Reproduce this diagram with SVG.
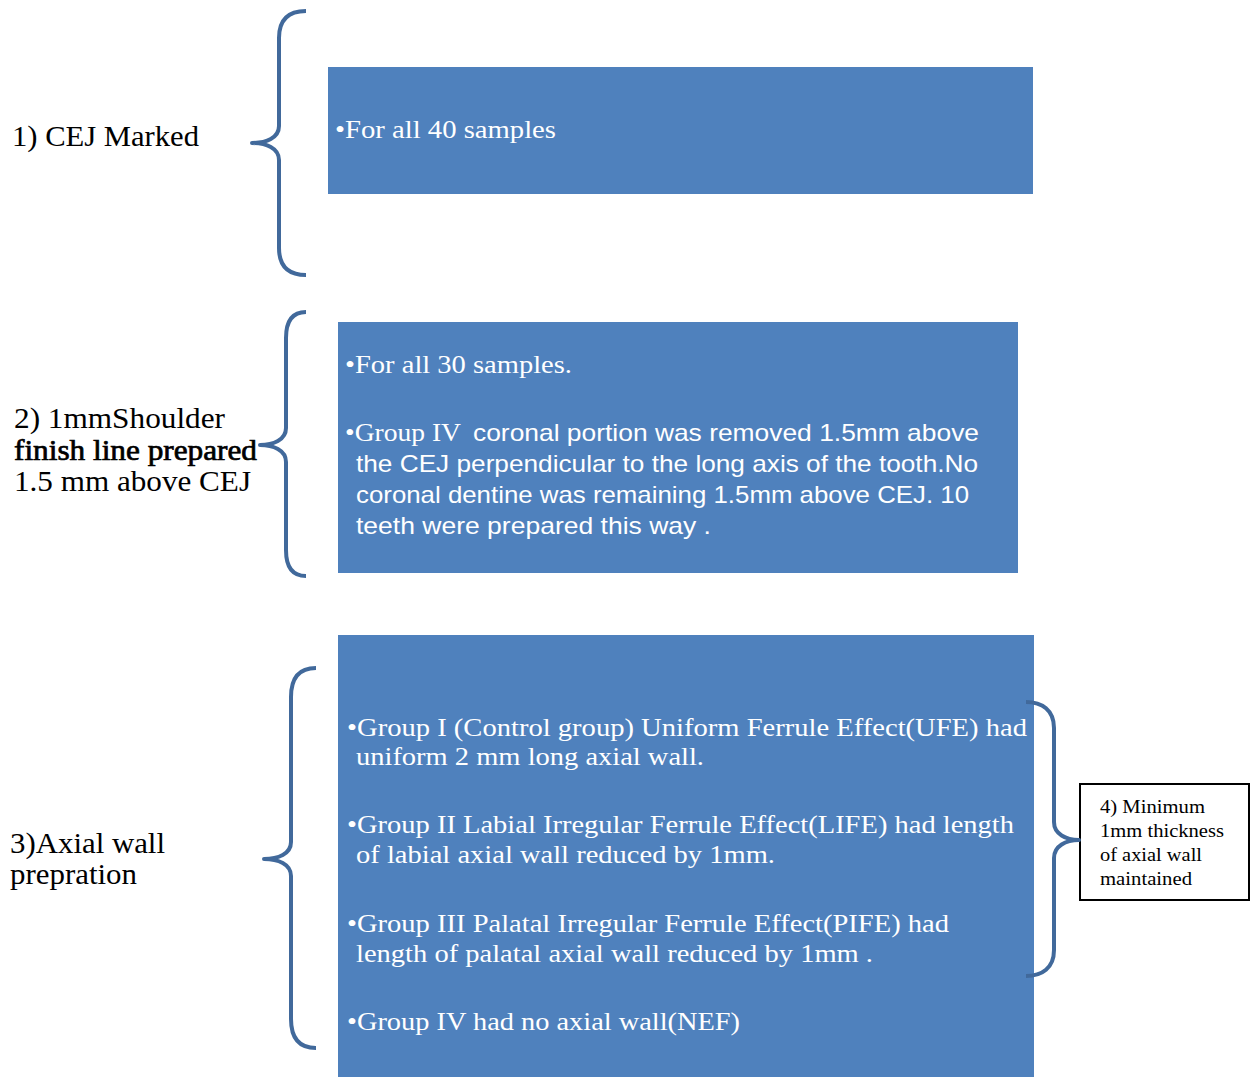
<svg xmlns="http://www.w3.org/2000/svg" width="1251" height="1077" viewBox="0 0 1251 1077">
<style>
.box{fill:#4f81bd;stroke:none}
.brace{fill:none;stroke:#41699b;stroke-width:4;stroke-linecap:butt;stroke-linejoin:round}
.w{fill:#ffffff;font-family:"Liberation Serif","Times New Roman",serif;font-size:26px}
.ws{fill:#ffffff;font-family:"Liberation Sans",Arial,sans-serif;font-size:24px}
.lbl{fill:#000000;font-family:"Liberation Serif","Times New Roman",serif;font-size:29px}
.heavy{stroke:#000000;stroke-width:0.7}
.small{fill:#000000;font-family:"Liberation Serif","Times New Roman",serif;font-size:19px}
.note{fill:#ffffff;stroke:#000000;stroke-width:2}
</style>
<rect width="1251" height="1077" fill="#ffffff"/>

<g id="label1">
<text class="lbl" x="12" y="146" textLength="187" lengthAdjust="spacingAndGlyphs">1) CEJ Marked</text>
</g>
<g id="label2">
<text class="lbl" x="14" y="428" textLength="211" lengthAdjust="spacingAndGlyphs">2) 1mmShoulder</text>
<text class="lbl heavy" x="14" y="460" textLength="243" lengthAdjust="spacingAndGlyphs">finish line prepared</text>
<text class="lbl" x="14" y="491" textLength="237" lengthAdjust="spacingAndGlyphs">1.5 mm above CEJ</text>
</g>
<g id="label3">
<text class="lbl" x="10" y="853" textLength="155" lengthAdjust="spacingAndGlyphs">3)Axial wall</text>
<text class="lbl" x="10" y="884" textLength="127" lengthAdjust="spacingAndGlyphs">prepration</text>
</g>

<g id="box1">
<rect class="box" x="328" y="67" width="705" height="127"/>
<text class="w" x="335" y="138" textLength="221" lengthAdjust="spacingAndGlyphs">•For all 40 samples</text>
</g>

<g id="box2">
<rect class="box" x="338" y="322" width="680" height="251"/>
<text class="w" x="345" y="373" textLength="227" lengthAdjust="spacingAndGlyphs">•For all 30 samples.</text>
<text class="w" x="345" y="441" textLength="116" lengthAdjust="spacingAndGlyphs">•Group IV</text>
<text class="ws" x="473" y="441" textLength="506" lengthAdjust="spacingAndGlyphs">coronal portion was removed 1.5mm above</text>
<text class="ws" x="356" y="472" textLength="622" lengthAdjust="spacingAndGlyphs">the CEJ perpendicular to the long axis of the tooth.No</text>
<text class="ws" x="356" y="503" textLength="613" lengthAdjust="spacingAndGlyphs">coronal dentine was remaining 1.5mm above CEJ. 10</text>
<text class="ws" x="356" y="534" textLength="355" lengthAdjust="spacingAndGlyphs">teeth were prepared this way .</text>
</g>

<g id="box3">
<rect class="box" x="338" y="635" width="696" height="442"/>
<text class="w" x="347" y="736" textLength="680" lengthAdjust="spacingAndGlyphs">•Group I (Control group) Uniform Ferrule Effect(UFE) had</text>
<text class="w" x="356" y="765" textLength="348" lengthAdjust="spacingAndGlyphs">uniform 2 mm long axial wall.</text>
<text class="w" x="347" y="833" textLength="667" lengthAdjust="spacingAndGlyphs">•Group II Labial Irregular Ferrule Effect(LIFE) had length</text>
<text class="w" x="356" y="863" textLength="419" lengthAdjust="spacingAndGlyphs">of labial axial wall reduced by 1mm.</text>
<text class="w" x="347" y="932" textLength="602" lengthAdjust="spacingAndGlyphs">•Group III Palatal Irregular Ferrule Effect(PIFE) had</text>
<text class="w" x="356" y="962" textLength="517" lengthAdjust="spacingAndGlyphs">length of palatal axial wall reduced by 1mm .</text>
<text class="w" x="347" y="1030" textLength="393" lengthAdjust="spacingAndGlyphs">•Group IV had no axial wall(NEF)</text>
</g>

<g id="box4">
<rect class="note" x="1080" y="784" width="169" height="116"/>
<text class="small" x="1100" y="813" textLength="105" lengthAdjust="spacingAndGlyphs">4) Minimum</text>
<text class="small" x="1100" y="837" textLength="124" lengthAdjust="spacingAndGlyphs">1mm thickness</text>
<text class="small" x="1100" y="861" textLength="102" lengthAdjust="spacingAndGlyphs">of axial wall</text>
<text class="small" x="1100" y="885" textLength="92" lengthAdjust="spacingAndGlyphs">maintained</text>
</g>

<g id="connectors">
<path id="brace1" class="brace" d="M306,11 C290,11 279,18 279,38 L279,126 C279,138 266,143 252,143 C266,143 279,148 279,160 L279,248 C279,268 290,275 306,275"/>
<path id="brace2" class="brace" d="M306,312 C293,312 286,320 286,338 L286,428 C286,440 273,445 260,445 C273,445 286,450 286,462 L286,550 C286,568 293,576 306,576"/>
<path id="brace3" class="brace" d="M316,668 C300,668 291,677 291,697 L291,842 C291,854 278,859 264,859 C278,859 291,864 291,876 L291,1019 C291,1039 300,1048 316,1048"/>
<path id="brace4" class="brace" d="M1026,702 C1042,702 1054,710 1054,728 L1054,822 C1054,834 1066,840 1079,840 C1066,840 1054,846 1054,858 L1054,950 C1054,968 1042,976 1026,976"/>
</g>
</svg>
